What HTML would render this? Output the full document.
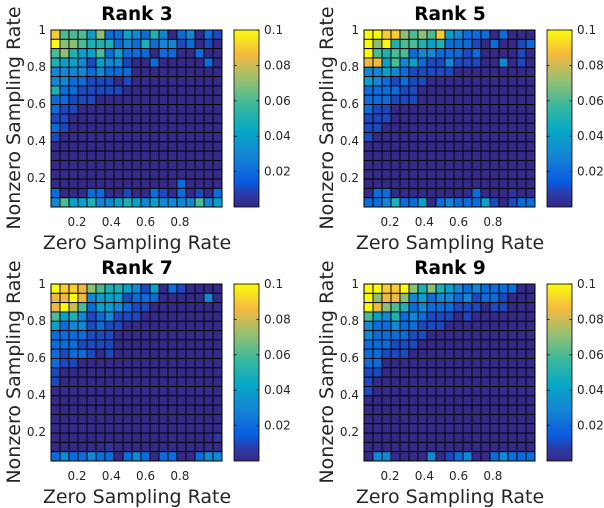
<!DOCTYPE html>
<html><head><meta charset="utf-8"><style>
html,body{margin:0;padding:0;background:#fff;}
svg{display:block;font-family:"DejaVu Sans","Liberation Sans",sans-serif;}
</style></head><body>
<svg id="chart" width="604" height="508" viewBox="0 0 604 508" xmlns="http://www.w3.org/2000/svg">
<defs>
<linearGradient id="parula" x1="0" y1="1" x2="0" y2="0">
<stop offset="0" stop-color="#352a87"/><stop offset="0.07" stop-color="#2d3aa6"/><stop offset="0.14" stop-color="#0a5ade"/>
<stop offset="0.29" stop-color="#1485d4"/><stop offset="0.43" stop-color="#06a7c6"/>
<stop offset="0.57" stop-color="#38b99e"/><stop offset="0.71" stop-color="#92bf73"/>
<stop offset="0.86" stop-color="#f5b940"/><stop offset="1" stop-color="#f9fb0e"/>
</linearGradient>
</defs>
</svg>
<script>
const panelTitles = ["Rank 3","Rank 5","Rank 7","Rank 9"];
const xTicks = [0.2,0.4,0.6,0.8];
const yTicks = [0.2,0.4,0.6,0.8,1];
const cbTicks = [0.02,0.04,0.06,0.08,0.1];
const rank3 = [
[9,6,6,6,4,7,2,2,4,3,2,5,3,0,2,3,0,2,1],
[10,7,7,6,5,5,5,2,3,2,5,2,3,3,1,2,0,1,0],
[6,7,5,4,4,6,2,4,2,2,2,0,2,2,0,0,2,0,0],
[5,4,4,3,1,4,3,3,1,0,0,2,0,0,0,0,0,2,0],
[3,3,3,3,2,3,2,2,2,0,0,0,0,0,0,0,0,0,0],
[3,3,2,2,1,1,1,0,1,0,0,0,0,0,0,0,0,0,0],
[5,2,2,1,1,1,1,1,0,0,0,0,0,0,0,0,0,0,0],
[2,2,1,1,1,0,0,0,0,0,0,0,0,0,0,0,0,0,0],
[2,1,1,0,0,0,0,0,0,0,0,0,0,0,0,0,0,0,0],
[1,1,0,0,0,0,0,0,0,0,0,0,0,0,0,0,0,0,0],
[2,1,0,0,0,0,0,0,0,0,0,0,0,0,0,0,0,0,0],
[1,0,0,0,0,0,0,0,0,0,0,0,0,0,0,0,0,0,0],
[0,0,0,0,0,0,0,0,0,0,0,0,0,0,0,0,0,0,0],
[0,0,0,0,0,0,0,0,0,0,0,0,0,0,0,0,0,0,0],
[0,0,0,0,0,0,0,0,0,0,0,0,0,0,0,0,0,0,0],
[0,0,0,0,0,0,0,0,0,0,0,0,0,0,0,0,0,0,0],
[0,0,0,0,0,0,0,0,0,0,0,0,0,0,2,0,0,0,0],
[2,0,0,0,2,2,0,0,1,0,0,2,1,0,2,0,1,0,2],
[3,6,4,4,5,3,3,4,5,4,3,4,3,3,3,3,6,3,4]];
const rank5 = [
[10,10,9,9,7,6,7,6,9,4,3,2,2,2,0,2,0,0,0],
[10,7,10,5,6,6,5,4,5,2,2,2,1,0,2,0,0,1,2],
[10,6,5,6,6,2,3,3,2,2,2,1,2,0,0,0,0,1,0],
[8.5,8.5,4,6,3,4,2,1,1,3,1,1,1,0,0,3,0,1,0],
[3,3,4,3,2,1,1,1,1,1,0,0,0,0,0,0,0,0,0],
[4,3,2,1,2,1,1,0,0,0,0,0,0,0,0,0,0,0,0],
[2,2,2,2,1,1,0,0,0,0,0,0,0,0,0,0,0,0,0],
[2,2,2,1,1,1,0,0,0,0,0,0,0,0,0,0,0,0,0],
[2,1,1,0,0,0,0,0,0,0,0,0,0,0,0,0,0,0,0],
[1,1,1,0,0,0,0,0,0,0,0,0,0,0,0,0,0,0,0],
[1,1,0,0,0,0,0,0,0,0,0,0,0,0,0,0,0,0,0],
[1,0,0,0,0,0,0,0,0,0,0,0,0,0,0,0,0,0,0],
[0,0,0,0,0,0,0,0,0,0,0,0,0,0,0,0,0,0,0],
[0,0,0,0,0,0,0,0,0,0,0,0,0,0,0,0,0,0,0],
[0,0,0,0,0,0,0,0,0,0,0,0,0,0,0,0,0,0,0],
[0,0,0,0,0,0,0,0,0,0,0,0,0,0,0,0,0,0,0],
[0,0,0,0,0,0,0,0,0,0,0,0,0,0,0,0,0,0,0],
[0,2,2,0,0,0,0,0,0,0,0,0,2,0,0,0,0.5,0,0],
[2,2,3,5,2,2,4,0,2,3,2,2,2,4,1,0,1,2,2]];
const rank7 = [
[10,9,9,8.5,7,6,5,5,4,3,1,4,0,2,1,0,0,0,0],
[8.5,8.5,10,8.5,3,4,4,4,1,2,2,2,0,0,0,0,0,3,0],
[8.5,10,8,6,2,4,4,3,2,1,1,0,0,0,0,0,0,0,0],
[6,4,5,3,1,2,3,1,1,1,0,0,0,0,0,0,0,0,0],
[4,2,3,3,1,2,1,1,0,0,0,0,0,0,0,0,0,0,0],
[2,2,2,2,1,1,1,0,0,0,0,0,0,0,0,0,0,0,0],
[2,2,2,1,1,1,1,0,0,0,0,0,0,0,0,0,0,0,0],
[2,1,2,2,1,0,1,0,0,0,0,0,0,0,0,0,0,0,0],
[2,1,1,0,0,0,0,0,0,0,0,0,0,0,0,0,0,0,0],
[1,0,0,0,0,0,0,0,0,0,0,0,0,0,0,0,0,0,0],
[1,0,0,0,0,0,0,0,0,0,0,0,0,0,0,0,0,0,0],
[0,0,0,0,0,0,0,0,0,0,0,0,0,0,0,0,0,0,0],
[0,0,0,0,0,0,0,0,0,0,0,0,0,0,0,0,0,0,0],
[0,0,0,0,0,0,0,0,0,0,0,0,0,0,0,0,0,0,0],
[0,0,0,0,0,0,0,0,0,0,0,0,0,0,0,0,0,0,0],
[0,0,0,0,0,0,0,0,0,0,0,0,0,0,0,0,0,0,0],
[0,0,0,0,0,0,0,0,0,0,0,0,0,0,0,0,0,0,0.5],
[0,0,0,0,0,0,0.5,0,0,0,0,0,0,0,0,0,0,0,0],
[2,3,2,2,3,2,2,0,2,3,2,0,2,2,0,0,2,3,3]];
const rank9 = [
[10,10,9,9,10,7,5,7,5,4,3,2,3,2,2,2,2,0,0],
[10,7,8.5,8.5,7,3,4,2,3,3,2,3,1,2,2,1,0,0,0],
[10,8.5,7,6,5,2,3,2,2,2,1,1,1,0,1,1,0,0,0],
[6,4,3,5,2,3,2,1,1,1,0,1,0,0,0,0,0,0,0],
[3,2,2,3,2,2,1,1,1,0,0,0,0,0,0,0,0,0,0],
[3,2,2,2,2,1,1,0,0,0,0,0,0,0,0,0,0,0,0],
[2,2,2,1,1,1,0,0,0,0,0,0,0,0,0,0,0,0,0],
[2,2,1,1,1,0,0,0,0,0,0,0,0,0,0,0,0,0,0],
[2,2,0,0,0,0,0,0,0,0,0,0,0,0,0,0,0,0,0],
[1,1,0,0,0,0,0,0,0,0,0,0,0,0,0,0,0,0,0],
[1,0,0,0,0,0,0,0,0,0,0,0,0,0,0,0,0,0,0],
[1,0,0,0,0,0,0,0,0,0,0,0,0,0,0,0,0,0,0],
[0,0,0,0,0,0,0,0,0,0,0,0,0,0,0,0,0,0,0],
[0,0,0,0,0,0,0,0,0,0,0,0,0,0,0,0,0,0,0],
[0,0,0,0,0,0,0,0,0,0,0,0,0,0,0,0,0,0,0],
[0,0,0,0,0,0,0,0,0,0,0,0,0,0,0,0,0,0,0],
[0,0,0,0,0,0,0,0,0,0,0,0,0,0,0,0,0,0,0],
[0,0,0,0,0,0,0,0,0,0,0,0,0,0,0,0,0,0,0],
[0,3,3,0,0,0,0,3,0,1,2,3,0,0,2,3,2,2,2]];
const panelData = [rank3, rank5, rank7, rank9];

const stops=[[0,[53,42,135]],[0.07,[45,58,166]],[0.14,[10,90,222]],[0.29,[20,133,212]],[0.43,[6,167,198]],[0.57,[56,185,158]],[0.71,[146,191,115]],[0.86,[245,185,64]],[1,[249,251,14]]];
function parula(t){t=Math.max(0,Math.min(1,t));for(let i=1;i<stops.length;i++){if(t<=stops[i][0]){const a=stops[i-1],b=stops[i],f=(t-a[0])/(b[0]-a[0]);return 'rgb('+a[1].map((c,k)=>Math.round(c+(b[1][k]-c)*f)).join(',')+')';}}return 'rgb(249,251,14)';}
const NS='http://www.w3.org/2000/svg';
const svg=document.getElementById('chart');
function mk(tag,attrs,parent){const e=document.createElementNS(NS,tag);for(const k in attrs)e.setAttribute(k,attrs[k]);(parent||svg).appendChild(e);return e;}
const offsets=[[0,0],[313,0],[0,254],[313,254]];
panelData.forEach((data,p)=>{
  const [dx,dy]=offsets[p];
  const g=mk('g',{transform:`translate(${dx},${dy})`});
  
  
  const L=51,T=30,W=171,H=177;
  const rows=data.length,cols=data[0].length;
  const cw=W/cols,ch=H/rows;
  const xPos=v=>77+(v-0.2)*171.5;
  const yPos=v=>30+(1-v)*185;
  const cbY=v=>30+(0.1-v)*1770;
  data.forEach((row,r)=>row.forEach((v,c)=>{
    const cell=mk('rect',{x:L+c*cw,y:T+r*ch,width:cw,height:ch,fill:parula(v/10),stroke:'#000','stroke-width':0.9},g);
    
    
  }));
  const frame=mk('rect',{x:L,y:T,width:W,height:H,fill:'none',stroke:'#000','stroke-width':1},g);
  
  
  const title=mk('text',{x:137,y:20,'text-anchor':'middle','font-size':18.5,'font-weight':'bold',fill:'#000'},g);
  title.textContent=panelTitles[p];
  
  
  xTicks.forEach(v=>{const t=mk('text',{x:xPos(v),y:226,'text-anchor':'middle','font-size':12,fill:'#262626'},g);t.textContent=String(v);
    
    });
  yTicks.forEach(v=>{const t=mk('text',{x:46,y:yPos(v)+4,'text-anchor':'end','font-size':12,fill:'#262626'},g);t.textContent=String(v);
    
    });
  const xl=mk('text',{x:137,y:249,'text-anchor':'middle','font-size':19,fill:'#262626'},g);xl.textContent='Zero Sampling Rate';
  
  
  const yl=mk('text',{x:0,y:0,'text-anchor':'middle','font-size':19,fill:'#262626',transform:'translate(20,118) rotate(-90)'},g);yl.textContent='Nonzero Sampling Rate';
  
  
  const cb=mk('rect',{x:234,y:30,width:25,height:177,fill:'url(#parula)',stroke:'#000','stroke-width':0.8},g);
  
  
  cbTicks.forEach(v=>{const y=cbY(v);
    mk('line',{x1:234,x2:236.5,y1:y,y2:y,stroke:'#000','stroke-width':0.8},g);
    mk('line',{x1:256.5,x2:259,y1:y,y2:y,stroke:'#000','stroke-width':0.8},g);
    const t=mk('text',{x:264,y:y+4,'font-size':12,fill:'#262626'},g);t.textContent=String(v);
    
    });
});
</script>
</body></html>
